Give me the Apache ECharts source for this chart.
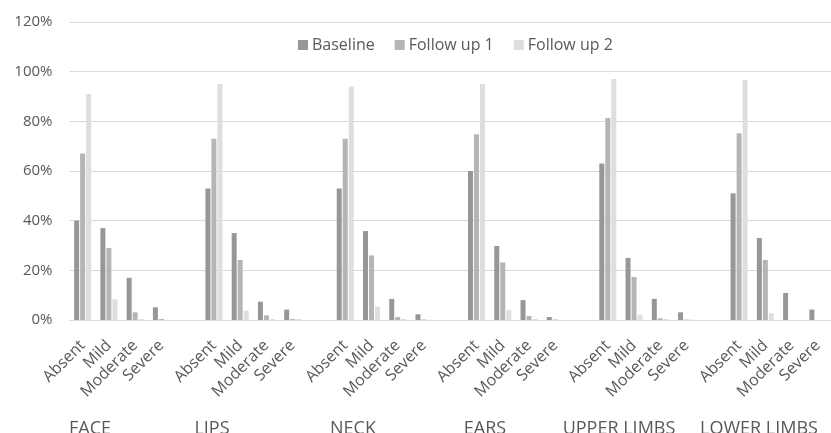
<!DOCTYPE html>
<html>
<head>
<meta charset="utf-8">
<style>
  html, body { margin: 0; padding: 0; background: #fff; }
  #chart { width: 831px; height: 433px; }
</style>
<script src="https://cdn.jsdelivr.net/npm/echarts@6/dist/echarts.min.js"></script>
</head>
<body>
<div id="chart"></div>
<script>
// Body regions and severity grades
const regions = ['FACE', 'LIPS', 'NECK', 'EARS', 'UPPER LIMBS', 'LOWER LIMBS'];
const grades = ['Absent', 'Mild', 'Moderate', 'Severe'];
const seriesNames = ['Baseline', 'Follow up 1', 'Follow up 2'];
const yTicks = [0, 20, 40, 60, 80, 100, 120];

// Percentages per region, in grade order (Absent, Mild, Moderate, Severe)
const baseline = [
  [40, 37, 17, 5.1],
  [53, 35, 7.4, 4.2],
  [53, 35.8, 8.5, 2.3],
  [60, 29.8, 8, 1.2],
  [63, 25, 8.5, 3.1],
  [51, 33, 10.9, 4.2]
];
const followUp1 = [
  [67, 29, 3.1, 0.4],
  [73, 24.2, 1.9, 0.4],
  [73, 26, 1.2, 0.2],
  [74.8, 23.2, 1.6, 0.2],
  [81.3, 17.3, 0.7, 0.2],
  [75.2, 24.2, 0, 0]
];
const followUp2 = [
  [91, 8.3, 0.4, 0.1],
  [95, 3.8, 0.4, 0.4],
  [94, 5.4, 0.4, 0.1],
  [95, 4, 0.4, 0.1],
  [97, 2.1, 0.4, 0.1],
  [96.6, 2.7, 0, 0]
];

const colors = ['#979797', '#b5b5b5', '#dedede'];
const textColor = '#595959';
const font = '"Open Sans", "Noto Sans", sans-serif';

// Flatten into one category axis with a blank slot between regions
const categories = [];
const flat = [[], [], []];
const tables = [baseline, followUp1, followUp2];
regions.forEach((r, ri) => {
  grades.forEach((g, gi) => {
    categories.push(g);
    tables.forEach((t, si) => flat[si].push(t[ri][gi]));
  });
  if (ri < regions.length - 1) {
    categories.push('');
    flat.forEach(arr => arr.push(null));
  }
});

const chart = echarts.init(document.getElementById('chart'), null, { renderer: 'canvas' });

// Region names under each group of grade labels
const regionLabelX = [90, 212, 353, 485, 619, 759];
const regionLabels = regions.map((r, i) => ({
  type: 'text',
  x: regionLabelX[i],
  y: 420,
  style: {
    text: r,
    fill: textColor,
    font: '18px ' + font,
    textAlign: 'center',
    textVerticalAlign: 'top'
  }
}));

chart.setOption({
  animation: false,
  color: colors,
  legend: {
    data: seriesNames,
    left: 293,
    top: 32,
    itemWidth: 10,
    itemHeight: 10,
    itemGap: 20,
    icon: 'rect',
    textStyle: { color: textColor, fontSize: 16, fontFamily: font, padding: [0, 0, 0, -1] }
  },
  grid: { left: 69.5, right: -12, top: 22, bottom: 113, containLabel: false },
  xAxis: {
    type: 'category',
    data: categories,
    axisLine: { lineStyle: { color: '#d9d9d9', width: 1 } },
    axisTick: { show: false },
    axisLabel: {
      interval: 0,
      rotate: 45,
      margin: 23,
      color: textColor,
      fontSize: 16,
      fontFamily: font
    }
  },
  yAxis: {
    type: 'value',
    min: yTicks[0],
    max: yTicks[yTicks.length - 1],
    interval: 20,
    axisLine: { show: false },
    axisTick: { show: false },
    splitLine: { lineStyle: { color: '#d9d9d9', width: 1 } },
    axisLabel: {
      margin: 17,
      color: textColor,
      fontSize: 15,
      fontFamily: font,
      formatter: v => v + '%'
    }
  },
  series: seriesNames.map((name, i) => ({
    name,
    type: 'bar',
    data: flat[i],
    barWidth: 5,
    barGap: '20%',
    itemStyle: { color: colors[i] }
  })),
  graphic: regionLabels
});
</script>
</body>
</html>
